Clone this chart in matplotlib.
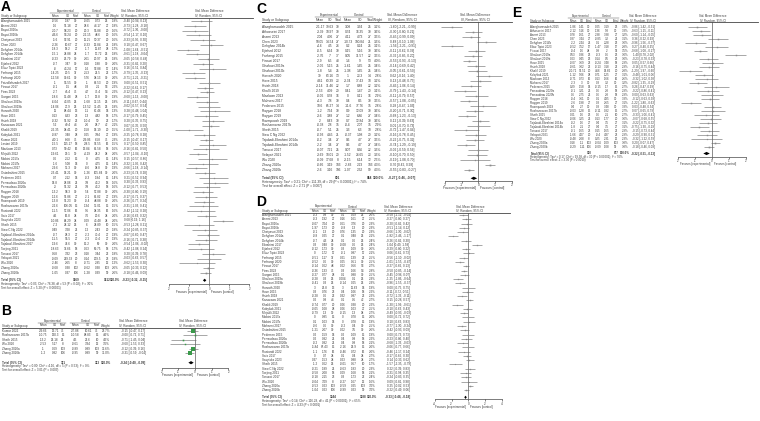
import matplotlib
matplotlib.use("Agg")
import matplotlib.pyplot as plt
from matplotlib.lines import Line2D
from matplotlib.patches import Polygon

plt.rcParams["font.family"] = ["Liberation Sans", "DejaVu Sans"]
plt.rcParams["axes.unicode_minus"] = False

W, H = 760, 421

# ---------------- panel A ----------------
A_study = ["Alaeghamsadeh 2015", "Asemi 2013", "Bayat 2016a", "Bayat 2016b", "Chaiyasut 2023", "Chen 2023",
           "Dehghan 2014a", "Dehghan 2014b", "Ebrahimi 2017", "Ejtahed 2012", "Eliuz Tipici 2023", "Farhangi 2015",
           "Farhangi 2020", "Feizollahzadeh 2017", "Firouzi 2017", "Firas 2023", "Gargari 2015", "Ghafouri 2019a",
           "Ghafouri 2019b", "Horvath 2020", "Hove 2015", "Hsieh 2018", "Kanazawa 2021", "Khalili 2019",
           "Kobyliak 2021", "Kumar 2022", "Lestari 2019", "Mazloom 2013", "Mirjalili 2022", "Mobini 2017a",
           "Mobini 2017b", "Mohseni 2017", "Ostadrahimi 2015", "Pedersen 2015", "Perraudeau 2020a",
           "Perraudeau 2020b", "Raygan 2018", "Raygan 2019", "Razmpoosh 2019", "Roshanravan 2017b",
           "Rustandi 2022", "Sato 2017", "Savytska 2023", "Sheth 2015", "Siew C Ng 2022",
           "Tajabadi-Ebrahimi 2014a", "Tajabadi-Ebrahimi 2014b", "Tajabadi-Ebrahimi 2017", "Toejing 2021",
           "Tonucci 2017", "Velayati 2021", "Wu 2020", "Zhang 2020a", "Zhang 2020b"]
A_em = [-0.56, 1.6, -20.7, -46.6, -5.6, -3.26, -18.3, -15.1, -0.23, -0.7, -8, -14.25, -12.58, -1, -0.1, -2.7,
        -18.6, -6.04, -14.06, 11, 0.13, -0.32, 5.2, -26.35, -0.87, -40.1, -15.5, 0.73, -19.61, 0.6, -1.6, -29.6,
        -23.41, 0.7, 14.8, -3, -13.2, -12.6, -13.8, -22.6, -11.5, 4.6, -10.86, -7.2, 0.49, -0.7, -11.5, -19.6,
        -18.63, 0.58, -9.09, -2.46, -0.68, -1.05]
A_esd = [1.87, 51.18, 58.23, 53.24, 52.91, 10.67, 18.2, 24.88, 26.79, 3.47, 43.24, 20.5, 30.61, 56.55, 1.5, 46.4,
         36.48, 43.05, 27.9, 88.44, 8.33, 51.92, 40.4, 38.41, 3.48, 6.68, 115.17, 59.42, 29.1, 2.52, 5.08, 35.3,
         14.21, 2.12, 28.08, 51.32, 58.3, 51.86, 51.23, 106.05, 57.06, 16.8, 64.29, 24.12, 3.28, 28.3, 55.5, 74.6,
         37.66, 3.32, 219.33, 2.65, 0.38, 0.37]
A_en = [30, 27, 20, 20, 20, 27, 27, 24, 30, 30, 17, 37, 30, 30, 48, 75, 28, 25, 25, 13, 23, 22, 44, 20, 28, 75,
        18, 16, 39, 15, 14, 30, 30, 14, 21, 21, 30, 27, 30, 15, 16, 34, 34, 25, 21, 27, 27, 30, 18, 23, 20, 8,
        102, 106]
A_cm = [-0.05, 28.6, 20.3, -22.15, 11.25, -0.33, -1.7, -1.7, 2.61, 0.18, -16, 2.53, 5.76, -1, 0.3, 4.7, -1.7,
        -1.68, -13.52, -11, 1.3, -10.4, 2.6, 1.58, 0.05, -39.06, -38.5, 13.84, -4.19, 0, 0, -8.6, -1.26, -0.3,
        3.8, 3.8, 5.4, -2.1, -0.4, 1.34, 9.5, 7.6, 0.09, 6, 1.2, -2.2, -2.2, 15.2, 0.63, 0.18, 0.14, -0.71,
        -0.62, -1.28]
A_csd = [0.73, 44.17, 56.88, 48.6, 50.37, 12.84, 11.87, 17.72, 20.97, 1.88, 52.88, 21.5, 38.13, 63.53, 2.1,
         75.4, 13.8, 32.15, 31.45, 67.46, 4.82, 50, 28.7, 14.19, 3.84, 6.58, 97.55, 61.58, 24.2, 4.75, 4.75, 38.8,
         105.84, 1.84, 43.2, 43.2, 57.88, 61.82, 48.88, 35.01, 38.35, 20.6, 43.48, 24.89, 2.43, 70.4, 70.4, 69.0,
         69.75, 3.44, 209.5, 2.85, 0.38, 0.39]
A_cn = [25, 27, 20, 20, 20, 21, 28, 25, 25, 30, 17, 22, 30, 20, 53, 54, 30, 25, 25, 14, 18, 22, 42, 20, 27, 75,
        16, 18, 38, 15, 15, 30, 30, 15, 18, 18, 30, 27, 30, 15, 16, 34, 34, 10, 20, 27, 27, 30, 18, 22, 23, 12,
        103, 99]
A_wt = [1.8, 1.8, 1.6, 1.6, 1.6, 1.8, 1.7, 1.8, 1.8, 2.0, 1.4, 1.7, 2.0, 1.9, 2.2, 2.2, 1.9, 1.8, 1.8, 1.3, 1.7,
        1.7, 2.1, 1.5, 1.9, 2.3, 1.5, 1.6, 2.0, 1.4, 1.4, 1.9, 2.0, 1.4, 1.6, 1.6, 2.0, 1.9, 2.0, 1.5, 1.6, 2.0,
        2.0, 1.5, 1.8, 1.9, 1.9, 2.0, 1.7, 1.8, 1.8, 1.2, 2.6, 2.6]
A_smd = [-0.40, -0.73, -0.72, -0.54, -0.33, 0.10, -1.08, -0.61, -0.05, -0.31, 0.16, -0.79, -0.71, 0.00, -0.22,
         -0.12, -0.60, -0.11, -0.02, 0.28, -0.17, 0.20, 0.07, -1.00, -0.25, -0.15, 0.17, -0.16, -0.57, 0.15,
         -0.32, -0.66, -0.23, 0.21, 0.30, -0.12, -0.30, -0.17, -0.26, -0.31, -0.42, -0.16, 0.68, -0.53, -0.24,
         -0.07, -0.16, -0.54, -0.42, 0.20, -0.03, -0.62, -0.05, -0.18]
A_lo = [-0.94, -1.28, -1.36, -1.17, -0.95, -0.47, -1.64, -1.18, -0.58, -0.82, -0.51, -1.35, -1.21, -0.51, -0.61,
        -0.47, -1.13, -0.67, -0.57, -0.48, -0.79, -0.35, -0.35, -1.71, -0.78, -0.47, -0.50, -0.81, -1.04, -0.57,
        -1.05, -1.18, -0.74, -0.52, -0.33, -0.77, -0.80, -0.71, -0.77, -1.03, -1.12, -0.63, 0.19, -1.28, -0.85,
        -0.60, -0.71, -1.06, -1.08, -0.39, -0.63, -1.53, -0.33, -0.46]
A_hi = [0.13, -0.18, -0.08, 0.10, 0.30, 0.67, -0.51, -0.04, 0.48, 0.20, 0.84, -0.23, -0.21, 0.51, 0.17, 0.23,
        -0.08, 0.44, 0.54, 1.04, 0.45, 0.75, 0.50, -0.30, 0.28, 0.17, 0.85, 0.50, -0.10, 0.86, 0.42, -0.14, 0.28,
        0.94, 0.93, 0.53, 0.19, 0.37, 0.24, 0.41, 0.28, 0.32, 1.16, 0.21, 0.37, 0.47, 0.38, -0.02, 0.24, 0.78,
        0.57, 0.30, 0.22, 0.09]
A_total = (1569, 1512)
A_overall = (-0.23, -0.32, -0.15)
A_het = "Heterogeneity: Tau² = 0.03; Chi² = 76.38, df = 53 (P = 0.02); I² = 30%"
A_test = "Test for overall effect: Z = 5.20 (P < 0.00001)"

# ---------------- panel B ----------------
B_study = ["Kumar 2022", "Roshanravan 2017b", "Sheth 2015", "Wu 2020", "Zhang 2020a", "Zhang 2020b"]
B_em = [-39.66, -10.75, -13.2, -2.53, -1, -1.2]
B_esd = [13.71, 130.3, 25.18, 5.17, 0.69, 0.82]
B_en = [75, 15, 25, 8, 103, 106]
B_cm = [-37.88, -10.58, 4.5, -0.61, -0.89, -0.95]
B_csd = [10.61, 88.83, 22.6, 3.34, 0.89, 0.89]
B_cn = [75, 15, 10, 12, 103, 99]
B_wt = [23.7, 4.6, 4.5, 3.6, 32.6, 31.0]
B_smd = [-0.15, -0.00, -0.71, -0.60, -0.12, -0.31]
B_lo = [-0.47, -0.72, -1.45, -1.53, -0.39, -0.59]
B_hi = [0.17, 0.71, 0.04, 0.33, 0.16, -0.04]
B_total = (331, 313)
B_overall = (-0.24, -0.40, -0.08)
B_het = "Heterogeneity: Tau² = 0.00; Chi² = 4.16, df = 5 (P = 0.53); I² = 0%"
B_test = "Test for overall effect: Z = 3.01 (P = 0.003)"

# ---------------- panel C ----------------
C_study = ["Alaeghamsadeh 2015", "Athosseini 2017", "Asemi 2013", "Chen 2023", "Dehghan 2014b", "Ejtahed 2012",
           "Farhangi 2015", "Firouzi 2017", "Ghafouri 2019a", "Ghafouri 2019b", "Horvath 2020", "Hove 2015",
           "Hsieh 2018", "Khalili 2019", "Mazloom 2013", "Mohseni 2017", "Pedersen 2015", "Raygan 2018",
           "Raygan 2019", "Razmpoosh 2019", "Roshanravan 2017b", "Sheth 2015", "Siew C Ng 2022",
           "Tajabadi-Ebrahimi 2014a", "Tajabadi-Ebrahimi 2014b", "Tonucci 2017", "Velayati 2021", "Wu 2020",
           "Zhang 2020a", "Zhang 2020b"]
C_em = [-21.17, -3.39, 2.04, 50.05, -4.6, -0.5, -2.76, -2.9, -2.06, -1.8, 39, 4.61, -3.14, -2.53, -0.06, -4.3,
        10.6, -1.2, -3.6, 2, -0.38, -0.7, -0.93, -0.2, -2.2, -0.07, -3.69, -0.09, -0.66, -2.6]
C_esd = [19.63, 10.97, 4.36, 14.54, 4.5, 6.64, 7, 6.5, 5.15, 5.4, 63.16, 60.39, 11.46, 4.09, 0.78, 7.8, 65.27,
         7.64, 3.88, 8.43, 2.8, 5.1, 4.45, 3.4, 3.4, 7.21, 18.01, 17.68, 3.19, 3.16]
C_en = [30, 30, 27, 27, 24, 30, 37, 48, 25, 25, 13, 23, 22, 20, 16, 30, 14, 30, 27, 30, 15, 25, 21, 27, 27, 25,
        20, 8, 103, 106]
C_cm = [3.08, 0.74, 4.11, -10.73, 0.2, 0.15, 0.05, 1.6, -1.61, -1.38, 1, -3.34, 1.7, 0.41, 0, 0.4, -11.6, 0.9,
        1.2, 0.7, -0.4, 3.3, -0.37, 0.6, 0.6, 0.07, -1.52, -3.15, -2.83, -1.07]
C_csd = [3.34, 16.35, 4.73, 100.84, 0.24, 5.16, 11.57, 9, 1.65, 1.65, 23.3, 37.43, 8.88, 1.47, 0.11, 8.5, 77.76,
         12.09, 6.86, 12.84, 2.07, 6.3, 1.98, 4.7, 4.7, 8.36, 24.65, 6.14, 2.23, 2.32]
C_cn = [25, 30, 27, 21, 25, 30, 22, 53, 25, 25, 14, 18, 22, 20, 16, 30, 15, 30, 27, 30, 15, 10, 20, 27, 27, 22,
        23, 12, 103, 99]
C_wt = [3.2, 3.6, 3.5, 3.3, 3.1, 3.6, 3.5, 4.0, 3.4, 3.4, 2.8, 3.2, 3.2, 3.1, 2.9, 3.5, 2.8, 3.6, 3.4, 3.6, 2.9,
        2.8, 3.2, 3.5, 3.4, 3.3, 3.3, 2.5, 4.3, 4.3]
C_smd = [-1.60, -0.30, -0.45, 0.48, -1.56, -0.11, -0.32, -0.53, -0.14, -0.05, 0.62, 0.13, -0.46, -0.79, -0.11,
         -0.57, 0.28, -0.20, -0.68, 0.12, 0.01, -0.72, -0.16, -0.22, -0.74, -0.02, -0.10, -0.19, 0.70, -0.55]
C_lo = [-2.21, -0.80, -0.99, -0.10, -2.21, -0.62, -0.85, -0.93, -0.69, -0.61, -0.16, -0.48, -1.06, -1.43, -0.79,
        -1.08, -0.47, -0.71, -1.23, -0.39, -0.70, -1.47, -0.78, -0.75, -1.29, -0.59, -0.70, -1.08, 0.42, -0.83]
C_hi = [-0.99, 0.21, 0.09, 1.06, -0.91, 0.39, 0.20, -0.13, 0.42, 0.50, 1.40, 0.75, 0.14, -0.14, 0.57, -0.05,
        1.03, 0.30, -0.13, 0.63, 0.73, 0.04, 0.45, 0.32, -0.19, 0.56, 0.50, 0.70, 0.98, -0.27]
C_total = (891, 864)
C_overall = (-0.27, -0.46, -0.07)
C_het = "Heterogeneity: Tau² = 0.21; Chi² = 111.39, df = 29 (P < 0.00001); I² = 74%"
C_test = "Test for overall effect: Z = 2.71 (P = 0.007)"

# ---------------- panel D ----------------
D_study = ["Alaeghamsadeh 2015", "Asemi 2013", "Bayat 2016a", "Bayat 2016b", "Chaiyasut 2023", "Dehghan 2014a",
           "Dehghan 2014b", "Ebrahimi 2017", "Ejtahed 2012", "Eliuz Tipici 2023", "Farhangi 2015", "Farhangi 2020",
           "Firouzi 2017", "Firas 2023", "Gargari 2015", "Ghafouri 2019a", "Ghafouri 2019b", "Horvath 2020",
           "Hove 2015", "Hsieh 2018", "Kanazawa 2021", "Khalili 2019", "Kobyliak 2021", "Mirjalili 2022",
           "Mobini 2017a", "Mobini 2017b", "Mohseni 2017", "Ostadrahimi 2015", "Pedersen 2015", "Perraudeau 2020a",
           "Perraudeau 2020b", "Roshanravan 2017b", "Rustandi 2022", "Sato 2017", "Savytska 2023", "Sheth 2015",
           "Siew C Ng 2022", "Toejing 2021", "Tonucci 2017", "Wu 2020", "Zhang 2020a", "Zhang 2020b"]
D_em = [-0.3, -0.3, -0.07, -1.97, -0.1, -0.8, -0.7, 0.3, -0.12, 0, -0.51, -0.52, -0.14, -0.36, -0.27, -0.28,
        -0.41, 3, 0.3, -0.28, 0.2, -0.74, -0.05, -0.79, 0, 0.1, -0.6, -1.21, 0.2, 0.2, -0.2, -5.84, -1.1, 0, 0.37,
        -1.2, -0.21, -0.58, -0.18, -0.04, -0.53, -1.04]
D_esd = [0.8, 1.92, 3.04, 1.73, 1.3, 0.25, 4.3, 0.48, 1.73, 1.72, 1.17, 0.6, 0.62, 1.33, 0.77, 0.3, 0.3, 26.8,
         0.76, 0.6, 0.8, 0.77, 1.08, 1.3, 0.85, 1.03, 0.6, 2.07, 1.59, 0.92, 0.92, 87.43, 1.76, 0.7, 1.53, 0.62,
         1.89, 2.08, 2.15, 3.09, 0.23, 0.23]
D_en = [30, 27, 20, 20, 20, 27, 24, 30, 30, 17, 37, 30, 48, 75, 28, 25, 25, 13, 23, 22, 44, 20, 28, 39, 15, 14,
        30, 30, 14, 21, 21, 15, 16, 34, 34, 25, 21, 18, 23, 8, 103, 106]
D_cm = [0.1, 0.16, 0.61, -0.8, 0.76, 0.1, 0.1, -0.08, 0.3, -0.1, 0.21, 0.05, 0.02, 0.3, 0.1, 0.004, -0.14, 3,
        0.4, 0.32, 0.1, 0.06, 0.06, -0.15, 0, 0, -0.2, 0.02, 0.2, 0.4, 0.4, -2.16, -0.46, 0.1, 0.23, -0.01, -0.63,
        0.09, 0.3, -0.27, -0.59, -0.99]
D_csd = [0.69, 1.61, 3.76, 1.3, 1.35, 0.48, 0.6, 0.6, 1.09, 0.87, 1.39, 0.51, 0.56, 1.66, 0.88, 0.1, 0.05, 11.63,
         1.06, 0.87, 0.5, 0.38, 1.03, 1.3, 0.78, 0.78, 0.4, 3.5, 1.09, 0.8, 0.8, 25.9, 0.72, 0.4, 0.88, 0.57, 1.83,
         1.68, 1.73, 1.67, 0.25, 0.23]
D_cn = [25, 27, 20, 20, 20, 25, 25, 25, 30, 17, 22, 30, 53, 54, 30, 25, 25, 14, 18, 22, 42, 20, 27, 38, 15, 15,
        30, 30, 15, 18, 18, 15, 16, 34, 34, 10, 20, 18, 22, 12, 103, 99]
D_wt = [2.6, 2.5, 2.3, 2.3, 2.3, 2.1, 2.4, 2.4, 2.6, 2.1, 2.5, 2.5, 2.7, 2.8, 2.5, 2.3, 2.3, 1.9, 2.2, 2.2, 2.7,
        2.2, 2.5, 2.7, 2.0, 1.9, 2.5, 2.6, 1.9, 2.2, 2.1, 2.0, 2.0, 2.7, 2.7, 1.7, 2.3, 2.1, 2.4, 1.6, 3.0, 3.0]
D_smd = [-0.58, -0.27, -0.20, -0.51, -0.66, -1.82, -0.26, 1.04, -0.29, 0.06, -0.56, -1.01, -0.27, -0.50, -0.45,
         -1.25, -0.96, 0.00, -0.11, -0.72, 0.15, -1.30, -0.10, -0.49, 0.00, 0.10, -0.77, -0.42, 0.00, -0.23,
         -0.68, -0.06, -0.46, -0.17, 0.14, -1.57, 0.22, -0.31, -0.24, 0.09, 0.25, -0.22]
D_lo = [-1.12, -0.80, -0.82, -1.14, -1.30, -2.46, -0.82, 0.49, -0.80, -0.61, -1.10, -1.55, -0.66, -0.85, -0.96,
        -1.86, -1.55, -0.75, -0.72, -1.33, -0.28, -1.99, -0.63, -0.93, -0.72, -0.63, -1.30, -0.93, -0.73, -0.86,
        -1.33, -0.77, -1.17, -0.65, -0.33, -2.35, -0.39, -0.98, -0.83, -0.81, -0.02, -0.49]
D_hi = [-0.04, 0.27, 0.42, 0.12, -0.02, -1.17, 0.30, 1.58, 0.22, 0.73, -0.02, -0.47, 0.13, -0.14, 0.07, -0.64,
        -0.37, 0.75, 0.51, -0.11, 0.57, -0.61, 0.43, -0.03, 0.72, 0.83, -0.24, 0.09, 0.73, 0.40, -0.03, 0.66,
        0.24, 0.30, 0.62, -0.79, 0.83, 0.35, 0.35, 0.98, 0.53, 0.06]
D_total = (1244, 1188)
D_overall = (-0.33, -0.48, -0.18)
D_het = "Heterogeneity: Tau² = 0.14; Chi² = 116.28, df = 41 (P < 0.00001); I² = 65%"
D_test = "Test for overall effect: Z = 4.33 (P < 0.0001)"

# ---------------- panel E ----------------
E_study = ["Alaeghamsadeh 2015", "Athosseini 2017", "Asemi 2013", "Chen 2023", "Dehghan 2014b",
           "Eliuz Tipici 2023", "Firouzi 2017", "Ghafouri 2019a", "Ghafouri 2019b", "Hove 2015", "Hsieh 2018",
           "Khalili 2019", "Kobyliak 2021", "Mazloom 2013", "Mohseni 2017", "Pedersen 2015", "Perraudeau 2020a",
           "Perraudeau 2020b", "Raygan 2018", "Raygan 2019", "Razmpoosh 2019", "Roshanravan 2017b", "Sheth 2015",
           "Siew C Ng 2022", "Tajabadi-Ebrahimi 2014a", "Tajabadi-Ebrahimi 2014b", "Tonucci 2017",
           "Velayati 2021", "Wu 2020", "Zhang 2020a", "Zhang 2020b"]
E_em = [-1.86, -2.12, 0.78, 0.37, -2.2, -0.52, -0.4, 0.53, 0.03, -0.07, -0.61, -30.71, -1.12, -0.71, -2.3, 0.29,
        -0.1, 0.6, -0.4, -2.6, 0.4, -0.03, 0.01, -0.06, -0.2, -1.8, -0.1, -1.66, -0.48, 0.18, -0.29]
E_esd = [1.41, 5.16, 1.61, 3.44, 2.44, 3.52, 1.6, 0.36, 0.45, 3.69, 3.02, 51.51, 5.06, 0.73, 3, 1.58, 3.21, 2.75,
         3.61, 1.98, 2.7, 1.28, 1.6, 3.25, 1.6, 2.1, 1.65, 4.07, 2.08, 1.1, 1.11]
E_en = [30, 30, 27, 27, 24, 17, 48, 25, 25, 23, 22, 20, 28, 16, 30, 14, 21, 21, 30, 27, 30, 15, 25, 21, 27, 27,
        23, 20, 8, 103, 106]
E_cm = [0.05, 1.36, 2.38, -0.85, 0.1, -1.47, 0.9, -0.3, 0.14, -0.24, -0.13, 4.56, 0.71, 0.13, 0.3, -0.15, 0.6,
        0.6, 0.1, 0.3, 0.3, -0.11, 0.6, 0.13, 0.4, 0.4, 0.15, -0.4, 0.25, -0.04, -0.09]
E_csd = [3.19, 5.8, 3.38, 3.2, 2.28, 3.18, 2, 0.6, 0.5, 3.48, 3.18, 14.66, 1.25, 1.66, 3.2, 1.7, 2.8, 2.8, 4.85,
         2.65, 3.48, 0.82, 2.1, 1.77, 3.5, 3.5, 1.65, 4.37, 2.31, 1.09, 1.08]
E_cn = [25, 30, 27, 21, 25, 17, 53, 25, 25, 18, 22, 20, 27, 16, 30, 15, 18, 18, 30, 27, 30, 15, 10, 20, 27, 27,
        22, 23, 12, 103, 99]
E_wt = [3.3, 3.3, 3.2, 3.1, 3.0, 2.8, 3.5, 3.0, 3.0, 2.9, 2.9, 2.8, 3.1, 2.6, 3.2, 2.7, 2.9, 2.9, 3.3, 3.1, 3.3,
        2.7, 2.7, 3.0, 3.1, 3.1, 2.9, 2.9, 2.3, 3.8, 3.8]
E_smd = [-0.86, -0.63, -0.60, 0.36, -0.96, 0.27, -0.68, 1.40, -0.23, 0.05, -0.16, -1.29, -0.48, -0.32, -0.82,
         0.26, -0.22, 0.00, -0.12, -1.22, 0.03, 0.07, -0.33, -0.07, -0.22, -0.75, -0.15, -0.29, -0.32, 0.20, -0.18]
E_lo = [-1.42, -1.15, -1.14, -0.22, -1.56, -0.40, -1.08, 0.78, -0.78, -0.57, -0.75, -1.97, -1.01, -1.02, -1.35,
        -0.47, -0.86, -0.63, -0.63, -1.80, -0.48, -0.65, -1.06, -0.68, -0.75, -1.30, -0.73, -0.90, -1.22, -0.07,
        -0.46]
E_hi = [-0.31, -0.11, -0.05, 0.93, -0.37, 0.95, -0.27, 2.02, 0.33, 0.66, 0.44, -0.60, 0.06, 0.38, -0.29, 0.99,
        0.41, 0.63, 0.39, -0.63, 0.54, 0.79, 0.41, 0.55, 0.32, -0.19, 0.44, 0.31, 0.59, 0.47, 0.09]
E_total = (910, 877)
E_overall = (-0.32, -0.51, -0.13)
E_het = "Heterogeneity: Tau² = 0.17; Chi² = 99.38, df = 30 (P < 0.00001); I² = 70%"
E_test = "Test for overall effect: Z = 3.30 (P = 0.0010)"

TEXT = "#3c3c3c"


def put(fig, x, y, s, size, ha="left", bold=False, color=TEXT, va="center"):
    fig.text(x / W, 1 - y / H, s, fontsize=size, ha=ha, va=va,
             fontweight="bold" if bold else "normal", color=color)


def hline(fig, x0, x1, y, lw=0.5, color="#444444"):
    fig.add_artist(Line2D([x0 / W, x1 / W], [1 - y / H, 1 - y / H], lw=lw, color=color))


def draw_panel(fig, lay, study, em, esd, en, cm, csd, cn, wt, smd, lo, hi, total, overall, het, test):
    fs = lay["fs"]
    nx = lay["name_x"]
    cols = lay["cols"]
    cix = lay["ci_x"]
    # panel letter, anchored by its baseline so it stays clear of the header row
    put(fig, lay["letter"][0], lay["letter"][1], lay["label"], 10, bold=True, color="black", va="baseline")

    y1, y2, yu = lay["head"]
    put(fig, (cols[0] + cols[2]) / 2, y1, "Experimental", fs, "center")
    put(fig, (cols[3] + cols[5]) / 2, y1, "Control", fs, "center")
    put(fig, cix, y1, "Std. Mean Difference", fs, "center")
    put(fig, cix, y2, "IV, Random, 95% CI", fs, "center")
    put(fig, lay["fhead"], y1, "Std. Mean Difference", fs, "center")
    put(fig, lay["fhead"], y2, "IV, Random, 95% CI", fs, "center")
    put(fig, nx, y2, "Study or Subgroup", fs)
    for x, s in zip(cols, ["Mean", "SD", "Total", "Mean", "SD", "Total", "Weight"]):
        put(fig, x, y2, s, fs, "center")
    hline(fig, cols[0] - 5, cols[2] + 3, y1 + 2.0, lw=0.3)
    hline(fig, cols[3] - 5, cols[5] + 3, y1 + 2.0, lw=0.3)
    hline(fig, nx, lay["fx"][1], yu, lw=0.6)

    ys = [lay["row0"] + i * lay["step"] for i in range(len(study))]
    for i, y in enumerate(ys):
        put(fig, nx, y, study[i], fs)
        vals = [f"{em[i]:g}", f"{esd[i]:g}", str(en[i]), f"{cm[i]:g}", f"{csd[i]:g}", str(cn[i]),
                f"{wt[i]:.1f}%"]
        for x, s in zip(cols, vals):
            put(fig, x, y, s, fs, "center")
        put(fig, cix, y, f"{smd[i]:.2f} [{lo[i]:.2f}, {hi[i]:.2f}]", fs, "center")

    yt = lay["total"]
    put(fig, nx, yt, "Total (95% CI)", fs, bold=True)
    put(fig, cols[2], yt, str(total[0]), fs, "center", bold=True)
    put(fig, cols[5], yt, str(total[1]), fs, "center", bold=True)
    put(fig, cols[6], yt, "100.0%", fs, "center", bold=True)
    put(fig, cix, yt, f"{overall[0]:.2f} [{overall[1]:.2f}, {overall[2]:.2f}]", fs, "center", bold=True)
    put(fig, nx, lay["het"], het, fs)
    put(fig, nx, lay["het"] + lay["gap"], test, fs)

    left, right = lay["fx"]
    top, bottom = yu, lay["axis"]
    zero, unit = lay["zero"], lay["unit"]
    ticks = lay["ticks"]
    ax = fig.add_axes([left / W, 1 - bottom / H, (right - left) / W, (bottom - top) / H])
    ax.set_xlim((left - zero) / unit, (right - zero) / unit)
    ax.set_ylim(bottom, top)
    ax.patch.set_alpha(0)
    for s in ["top", "left", "right"]:
        ax.spines[s].set_visible(False)
    ax.spines["bottom"].set_bounds(ticks[0], ticks[-1])
    ax.spines["bottom"].set_linewidth(0.45)
    ax.spines["bottom"].set_color("#333333")
    ax.set_xticks(ticks)
    ax.set_xticklabels([f"{t:g}" for t in ticks])
    ax.set_yticks([])
    ax.tick_params(axis="x", length=1.3, width=0.45, pad=0.5, labelsize=fs, colors=TEXT)
    ax.plot([0, 0], [top, bottom], color="#333333", lw=0.4)
    ax.hlines(ys, lo, hi, color="#666666", lw=0.4)
    for y, s, w in zip(ys, smd, wt):
        ax.plot(s, y, marker="s", ms=lay["msk"] * w ** 0.5, color=lay["sq"], mew=0)
    d = lay["dh"]
    ax.add_patch(Polygon([(overall[1], yt), (overall[0], yt - d), (overall[2], yt), (overall[0], yt + d)],
                         closed=True, color="black", lw=0))
    put(fig, zero - 2, lay["fav"], "Favours [experimental]", fs, "right")
    put(fig, zero + 2, lay["fav"], "Favours [control]", fs, "left")


fig = plt.figure(figsize=(W / 100, H / 100), dpi=100)

lay_A = dict(label="A", letter=(0.5, 11.3), fs=2.2, name_x=1, cols=[55, 68, 76, 87, 98, 107, 115], ci_x=135,
             head=(10.8, 15.9, 17.5), fhead=209, row0=21.0, step=4.75, total=280.3, het=284.3, gap=3.7,
             fx=(160, 253), zero=209.3, unit=20, ticks=[-2, -1, 0, 1, 2], axis=284.3, fav=291.5,
             sq="#8a8a8a", msk=0.75, dh=1.6)
lay_B = dict(label="B", letter=(1.5, 315), fs=2.2, name_x=2, cols=[43, 55, 63, 75, 88, 97, 106], ci_x=133,
             head=(321, 325.5, 327.5), fhead=193, row0=331, step=4.4, total=362.7, het=366.5, gap=3.6,
             fx=(150, 240), zero=195, unit=16.6, ticks=[-2, -1, 0, 1, 2], axis=367.7, fav=374.8,
             sq="#3a9a4a", msk=0.55, dh=1.6)
lay_C = dict(label="C", letter=(256, 13), fs=2.3, name_x=262, cols=[320, 330, 338, 348, 360, 370, 378], ci_x=402,
             head=(15, 19.8, 21.8), fhead=475, row0=26.7, step=4.94, total=178.3, het=182.3, gap=3.7,
             fx=(425, 512), zero=478.3, unit=16.7, ticks=[-2, -1, 0, 1, 2], axis=181, fav=188.3,
             sq="#8a8a8a", msk=0.6, dh=1.6)
lay_D = dict(label="D", letter=(256, 206), fs=2.15, name_x=262, cols=[315, 325, 333, 343, 354, 363, 372],
             ci_x=398, head=(206.5, 210.8, 212.6), fhead=470, row0=215, step=4.27, total=397.3, het=401, gap=3.8,
             fx=(425, 510), zero=468.3, unit=8.4, ticks=[-4, -2, 0, 2, 4], axis=399.3, fav=406.8,
             sq="#8a8a8a", msk=0.6, dh=1.6)
lay_E = dict(label="E", letter=(512, 17), fs=2.1, name_x=530, cols=[573, 582, 589, 598, 607, 616, 625], ci_x=643,
             head=(16, 20.7, 22.3), fhead=713, row0=27, step=4.0, total=153.5, het=157, gap=3.5,
             fx=(660, 758), zero=712, unit=17, ticks=[-2, -1, 0, 1, 2], axis=157, fav=164,
             sq="#8a8a8a", msk=0.6, dh=1.6)

draw_panel(fig, lay_A, A_study, A_em, A_esd, A_en, A_cm, A_csd, A_cn, A_wt, A_smd, A_lo, A_hi,
           A_total, A_overall, A_het, A_test)
draw_panel(fig, lay_B, B_study, B_em, B_esd, B_en, B_cm, B_csd, B_cn, B_wt, B_smd, B_lo, B_hi,
           B_total, B_overall, B_het, B_test)
draw_panel(fig, lay_C, C_study, C_em, C_esd, C_en, C_cm, C_csd, C_cn, C_wt, C_smd, C_lo, C_hi,
           C_total, C_overall, C_het, C_test)
draw_panel(fig, lay_D, D_study, D_em, D_esd, D_en, D_cm, D_csd, D_cn, D_wt, D_smd, D_lo, D_hi,
           D_total, D_overall, D_het, D_test)
draw_panel(fig, lay_E, E_study, E_em, E_esd, E_en, E_cm, E_csd, E_cn, E_wt, E_smd, E_lo, E_hi,
           E_total, E_overall, E_het, E_test)

fig.savefig("out.png", dpi=100, facecolor="white")
